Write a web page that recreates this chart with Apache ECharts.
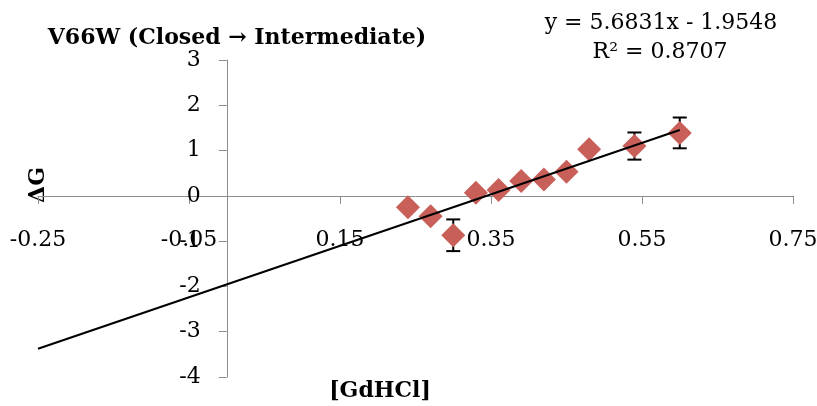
<!DOCTYPE html>
<html>
<head>
<meta charset="utf-8">
<script src="https://cdn.jsdelivr.net/npm/echarts@6/dist/echarts.min.js"></script>
<style>
html,body{margin:0;padding:0;background:#fff;}
#chart{width:817px;height:406px;}
</style>
</head>
<body>
<div id="chart"></div>
<script>
// ---- data ----
var titleText = 'V66W (Closed \u2192 Intermediate)';
var xAxisName = '[GdHCl]';
var yAxisName = '\u0394G';
var gdhcl = [0.24, 0.27, 0.30, 0.33, 0.36, 0.39, 0.42, 0.45, 0.48, 0.54, 0.60];
var deltaG = [-0.25, -0.45, -0.87, 0.07, 0.13, 0.33, 0.36, 0.53, 1.03, 1.10, 1.39];
var errX = [0.30, 0.54, 0.60];
var errY = [-0.87, 1.10, 1.39];
var errSize = [0.35, 0.30, 0.34];
var trendSlope = 5.6831;
var trendIntercept = -1.9548;
var trendR2 = 0.8707;
var trendXRange = [-0.25, 0.60];
var xMin = -0.25, xMax = 0.75, xStep = 0.2;
var yMin = -4, yMax = 3, yStep = 1;

var FONT = 'DejaVu Serif';
var AXIS_COLOR = '#8c8c8c';

var scatterData = gdhcl.map(function (x, i) { return [x, deltaG[i]]; });
var errData = errX.map(function (x, i) { return [x, errY[i], errSize[i]]; });
var trendData = trendXRange.map(function (x) { return [x, trendSlope * x + trendIntercept]; });

// grid geometry (pixels)
var G_LEFT = 38, G_RIGHT = 24, G_TOP = 60, G_BOTTOM = 29;
var W = 817, H = 406;
var plotW = W - G_LEFT - G_RIGHT, plotH = H - G_TOP - G_BOTTOM;
// offsets so that the axes sit on the zero lines, with their labels
var xAxisOffset = -plotH * (0 - yMin) / (yMax - yMin);
var yAxisOffset = -plotW * (0 - xMin) / (xMax - xMin);

var chart = echarts.init(document.getElementById('chart'), null, {renderer: 'canvas'});
chart.setOption({
  animation: false,
  backgroundColor: '#ffffff',
  grid: {left: G_LEFT, right: G_RIGHT, top: G_TOP, bottom: G_BOTTOM, containLabel: false, outerBoundsMode: 'none'},
  xAxis: {
    type: 'value', min: xMin, max: xMax, interval: xStep, position: 'bottom', offset: xAxisOffset,
    axisLine: {onZero: false, lineStyle: {color: AXIS_COLOR, width: 1}},
    axisTick: {show: true, inside: false, length: 8, lineStyle: {color: AXIS_COLOR}},
    axisLabel: {margin: 33, fontFamily: FONT, fontSize: 22, color: '#000',
      formatter: function (v) { return v.toFixed(2); }},
    splitLine: {show: false}
  },
  yAxis: {
    type: 'value', min: yMin, max: yMax, interval: yStep, position: 'left', offset: yAxisOffset,
    axisLine: {onZero: false, lineStyle: {color: AXIS_COLOR, width: 1}},
    axisTick: {show: true, inside: false, length: 8, lineStyle: {color: AXIS_COLOR}},
    axisLabel: {margin: 26, fontFamily: FONT, fontSize: 22, color: '#000'},
    splitLine: {show: false}
  },
  graphic: [
    {type: 'text', x: 237, y: 38, style: {text: titleText, font: 'bold 22px "DejaVu Serif"', fill: '#000', align: 'center', verticalAlign: 'middle'}},
    {type: 'text', x: 38, y: 185, rotation: Math.PI / 2, style: {text: yAxisName, font: 'bold 22px "DejaVu Serif"', fill: '#000', align: 'center', verticalAlign: 'middle'}},
    {type: 'text', x: 380, y: 391, style: {text: xAxisName, font: 'bold 22px "DejaVu Serif"', fill: '#000', align: 'center', verticalAlign: 'middle'}},
    {type: 'text', x: 661, y: 23, style: {text: 'y = ' + trendSlope + 'x - ' + Math.abs(trendIntercept), font: '22px "DejaVu Serif"', fill: '#000', align: 'center', verticalAlign: 'middle'}},
    {type: 'text', x: 660, y: 52, style: {text: 'R\u00b2 = ' + trendR2, font: '22px "DejaVu Serif"', fill: '#000', align: 'center', verticalAlign: 'middle'}}
  ],
  series: [
    {
      type: 'custom', z: 1, silent: true,
      data: errData,
      renderItem: function (params, api) {
        var x = api.value(0), y = api.value(1), e = api.value(2);
        var top = api.coord([x, y + e]);
        var bot = api.coord([x, y - e]);
        var hw = 7;
        var st = {stroke: '#000', lineWidth: 2};
        return {type: 'group', children: [
          {type: 'line', shape: {x1: top[0], y1: top[1], x2: bot[0], y2: bot[1]}, style: st},
          {type: 'line', shape: {x1: top[0] - hw, y1: top[1], x2: top[0] + hw, y2: top[1]}, style: st},
          {type: 'line', shape: {x1: bot[0] - hw, y1: bot[1], x2: bot[0] + hw, y2: bot[1]}, style: st}
        ]};
      }
    },
    {
      type: 'scatter', z: 2, symbol: 'diamond', symbolSize: 24,
      itemStyle: {color: '#c95f59', opacity: 1},
      data: scatterData
    },
    {
      type: 'line', z: 3, data: trendData, symbol: 'none',
      lineStyle: {color: '#000', width: 2}
    }
  ]
});
</script>
</body>
</html>
